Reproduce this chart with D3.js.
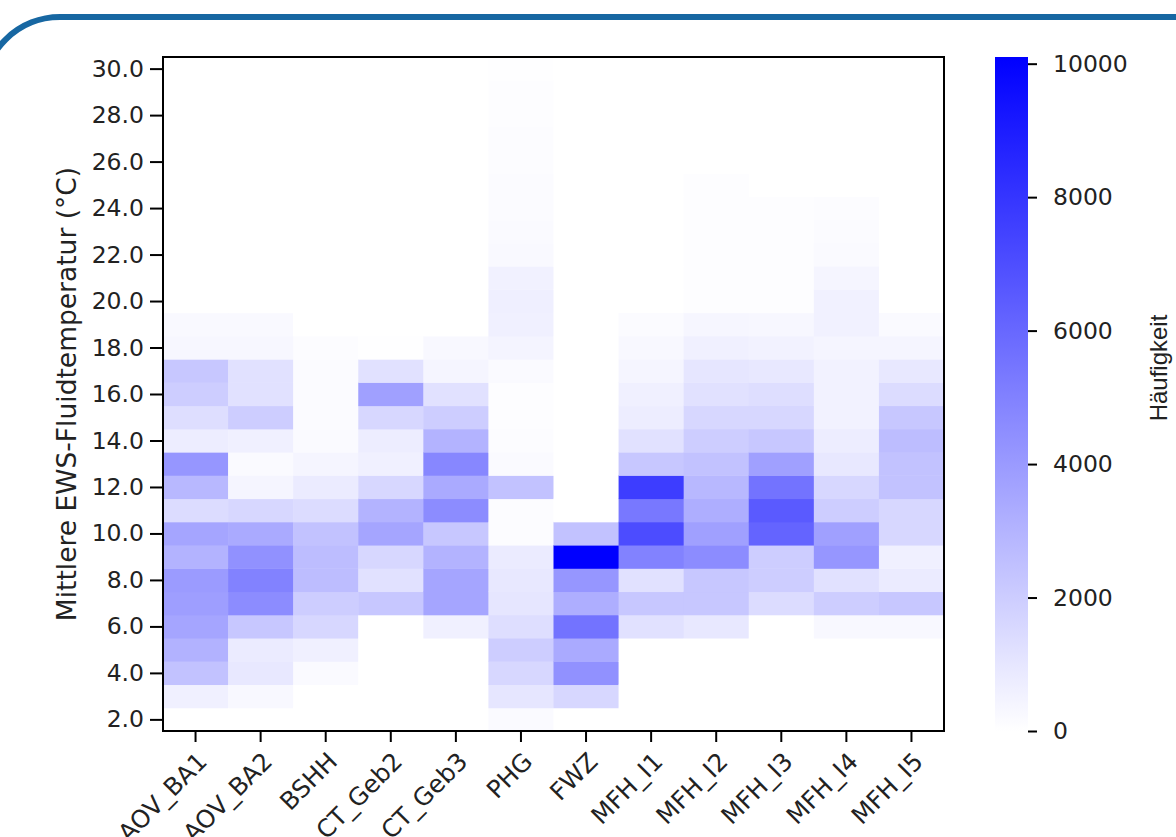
<!DOCTYPE html>
<html>
<head>
<meta charset="utf-8">
<script src="https://cdn.jsdelivr.net/npm/d3@7"></script>
<style>
  html, body { margin: 0; padding: 0; background: #ffffff; }
  svg { display: block; }
</style>
</head>
<body>
<svg id="chart" width="1176" height="837"></svg>
<script>
// ---- Data ----
const categories = ["AOV_BA1", "AOV_BA2", "BSHH", "CT_Geb2", "CT_Geb3", "PHG", "FWZ",
                    "MFH_I1", "MFH_I2", "MFH_I3", "MFH_I4", "MFH_I5"];
// temperature bins (°C), bin centres, 1 K wide
const tempBins = [2,3,4,5,6,7,8,9,10,11,12,13,14,15,16,17,18,19,20,21,22,23,24,25,26,27,28,29,30];
const yTickValues = [2,4,6,8,10,12,14,16,18,20,22,24,26,28,30];
const colorbarTicks = [0, 2000, 4000, 6000, 8000, 10000];

// counts per category, ordered like tempBins (2 °C ... 30 °C)
const AOV_BA1 = [0, 600, 2400, 3050, 3550, 3850, 3950, 3000, 3550, 1400, 2800, 4150, 700, 1300, 2000, 2200, 300, 250, 0, 0, 0, 0, 0, 0, 0, 0, 0, 0, 0];
const AOV_BA2 = [0, 280, 900, 800, 2200, 4550, 4950, 4350, 3350, 1600, 400, 200, 600, 2000, 1200, 1200, 300, 250, 0, 0, 0, 0, 0, 0, 0, 0, 0, 0, 0];
const BSHH    = [0, 0, 200, 600, 1600, 2000, 2600, 2600, 2400, 1400, 800, 400, 200, 150, 150, 150, 100, 0, 0, 0, 0, 0, 0, 0, 0, 0, 0, 0, 0];
const CT_Geb2 = [0, 0, 0, 0, 0, 2200, 1200, 1600, 3550, 3000, 1600, 600, 700, 1600, 3750, 1200, 50, 0, 0, 0, 0, 0, 0, 0, 0, 0, 0, 0, 0];
const CT_Geb3 = [0, 0, 0, 0, 600, 3550, 3550, 3000, 2200, 4550, 3350, 4750, 3000, 2000, 1200, 400, 280, 0, 0, 0, 0, 0, 0, 0, 0, 0, 0, 0, 0];
const PHG     = [200, 1000, 1600, 2000, 1300, 1000, 900, 800, 100, 100, 2400, 200, 100, 80, 80, 200, 450, 600, 650, 550, 250, 180, 150, 140, 120, 100, 80, 60, 50];
const FWZ     = [0, 1600, 4350, 3350, 5550, 3200, 4150, 10100, 2400, 0, 0, 0, 0, 0, 0, 0, 0, 0, 0, 0, 0, 0, 0, 0, 0, 0, 0, 0, 0];
const MFH_I1  = [0, 0, 0, 0, 1200, 2200, 1200, 4950, 7100, 5350, 7700, 2200, 1200, 700, 600, 400, 280, 150, 0, 0, 0, 0, 0, 0, 0, 0, 0, 0, 0];
const MFH_I2  = [0, 0, 0, 0, 900, 2200, 2200, 4550, 3750, 3200, 2800, 2400, 2000, 1600, 1200, 1000, 600, 350, 80, 80, 80, 80, 80, 80, 0, 0, 0, 0, 0];
const MFH_I3  = [0, 0, 0, 0, 0, 1400, 2000, 2000, 6150, 6550, 5550, 3750, 2200, 1600, 1300, 900, 500, 300, 80, 80, 80, 80, 80, 0, 0, 0, 0, 0, 0];
const MFH_I4  = [0, 0, 0, 0, 280, 2000, 1200, 4150, 3750, 2000, 1600, 900, 700, 500, 500, 500, 400, 550, 550, 400, 200, 150, 100, 0, 0, 0, 0, 0, 0];
const MFH_I5  = [0, 0, 0, 0, 280, 2200, 800, 600, 1600, 1600, 2400, 2400, 2600, 2200, 1400, 900, 400, 200, 0, 0, 0, 0, 0, 0, 0, 0, 0, 0, 0];

const seriesByCategory = [AOV_BA1, AOV_BA2, BSHH, CT_Geb2, CT_Geb3, PHG, FWZ, MFH_I1, MFH_I2, MFH_I3, MFH_I4, MFH_I5];

// ---- Build cell table ----
const cells = [];
categories.forEach((c, i) => {
  tempBins.forEach((t, j) => cells.push({ cat: c, temp: t, count: seriesByCategory[i][j] }));
});
const vmax = d3.max(cells, d => d.count);

// ---- Layout ----
const plot = { left: 163, top: 57, right: 944, bottom: 731 };
const bar = { left: 995, right: 1028 };
const tickFont = "DejaVu Sans, sans-serif";
const tickSize = 23.5;

const svg = d3.select("#chart");

// slide frame (rounded blue border at top-left)
svg.append("rect")
  .attr("x", -17).attr("y", 17)
  .attr("width", 1300).attr("height", 1000)
  .attr("rx", 77).attr("ry", 77)
  .attr("fill", "none")
  .attr("stroke", "#1767a2")
  .attr("stroke-width", 6);

const x = d3.scaleBand().domain(categories).range([plot.left, plot.right]).padding(0);
const y = d3.scaleLinear().domain([tempBins[0] - 0.5, tempBins[tempBins.length - 1] + 0.5])
  .range([plot.bottom, plot.top]);
const color = d3.scaleLinear().domain([0, vmax]).range(["#ffffff", "#0000ff"]).interpolate(d3.interpolateRgb);

// cells
svg.append("g").selectAll("rect").data(cells).join("rect")
  .attr("x", d => x(d.cat))
  .attr("y", d => y(d.temp + 0.5))
  .attr("width", x.bandwidth() + 0.5)
  .attr("height", d => y(d.temp - 0.5) - y(d.temp + 0.5) + 0.5)
  .attr("fill", d => color(d.count));

// axes
const yAxis = d3.axisLeft(y).tickValues(yTickValues).tickFormat(d3.format(".1f")).tickSize(13).tickPadding(6);
const gy = svg.append("g").attr("transform", `translate(${plot.left},0)`).call(yAxis);
gy.select(".domain").remove();
gy.selectAll(".tick line").attr("stroke", "#000").attr("stroke-width", 2);
gy.selectAll(".tick text").attr("font-family", tickFont).attr("font-size", tickSize).attr("fill", "#222");

const xAxis = d3.axisBottom(x).tickSize(11).tickPadding(0);
const gx = svg.append("g").attr("transform", `translate(0,${plot.bottom})`).call(xAxis);
gx.select(".domain").remove();
gx.selectAll(".tick line").attr("stroke", "#000").attr("stroke-width", 2);
gx.selectAll(".tick text")
  .attr("font-family", tickFont).attr("font-size", 24.5).attr("fill", "#222")
  .attr("text-anchor", "end")
  .attr("x", 0).attr("y", 0).attr("dy", "0.35em")
  .attr("transform", "translate(7,26) rotate(-45)");

// frame
svg.append("rect")
  .attr("x", plot.left).attr("y", plot.top)
  .attr("width", plot.right - plot.left).attr("height", plot.bottom - plot.top)
  .attr("fill", "none").attr("stroke", "#000").attr("stroke-width", 2);

// y label
svg.append("text")
  .attr("transform", `translate(76,${(plot.top + plot.bottom) / 2}) rotate(-90)`)
  .attr("text-anchor", "middle")
  .attr("font-family", tickFont).attr("font-size", 26.5).attr("fill", "#222")
  .text("Mittlere EWS-Fluidtemperatur (°C)");

// colorbar
const defs = svg.append("defs");
const grad = defs.append("linearGradient").attr("id", "cbar")
  .attr("x1", 0).attr("y1", 1).attr("x2", 0).attr("y2", 0);
d3.range(0, 1.0001, 0.1).forEach(f => {
  grad.append("stop").attr("offset", f).attr("stop-color", color(f * vmax));
});
const cy = d3.scaleLinear().domain([0, vmax]).range([plot.bottom, plot.top]);
svg.append("rect")
  .attr("x", bar.left).attr("y", plot.top)
  .attr("width", bar.right - bar.left).attr("height", plot.bottom - plot.top)
  .attr("fill", "url(#cbar)");
const cAxis = d3.axisRight(cy).tickValues(colorbarTicks).tickFormat(d3.format("d")).tickSize(9).tickPadding(16);
const gc = svg.append("g").attr("transform", `translate(${bar.right},0)`).call(cAxis);
gc.select(".domain").remove();
gc.selectAll(".tick line").attr("stroke", "#000").attr("stroke-width", 2);
gc.selectAll(".tick text").attr("font-family", tickFont).attr("font-size", tickSize).attr("fill", "#222");

svg.append("text")
  .attr("transform", `translate(1167,368) rotate(-90)`)
  .attr("text-anchor", "middle")
  .attr("font-family", "Liberation Sans Narrow, Liberation Sans, Arial, sans-serif").attr("font-size", 24).attr("fill", "#222")
  .text("Häufigkeit");
</script>
</body>
</html>
